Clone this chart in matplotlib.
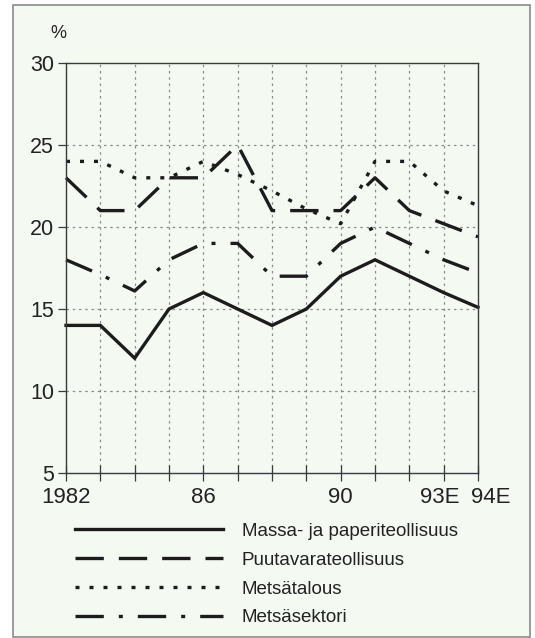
import matplotlib
matplotlib.use('Agg')
import matplotlib.pyplot as plt
from matplotlib.patches import Rectangle
from matplotlib.transforms import ScaledTranslation

plt.rcParams['font.family'] = ['Liberation Sans', 'DejaVu Sans']

years = [1982, 1983, 1984, 1985, 1986, 1987, 1988, 1989, 1990, 1991, 1992, 1993, 1994]
massa = [14, 14, 12, 15, 16, 15, 14, 15, 17, 18, 17, 16, 15.1]
puutavara = [23, 21, 21, 23, 23, 25, 21, 21, 21, 23, 21, 20.2, 19.4]
metsatalous = [24, 24, 23, 23, 24, 23.2, 22.2, 21.1, 20.2, 24, 24, 22.2, 21.3]
metsasektori = [18, 17.1, 16.1, 18, 19, 19, 17, 17, 19, 20, 19, 18, 17.2]

labels = ['Massa- ja paperiteollisuus', 'Puutavarateollisuus', 'Metsätalous', 'Metsäsektori']
xtick_pos = [1982, 1986, 1990, 1993, 1994]
xtick_lab = ['1982', '86', '90', '93E', '94E']

ink = '#1c1c1c'
bg = '#f4f9f2'

fig = plt.figure(figsize=(5.35, 6.38), dpi=100)
fig.patch.set_facecolor('white')
# light panel with grey frame
fig.add_artist(Rectangle((13 / 535, 1 - 637 / 638), 517 / 535, 632 / 638,
                         transform=fig.transFigure, facecolor=bg,
                         edgecolor='#8a8a8a', linewidth=1.2, zorder=-10))

ax = fig.add_axes([66 / 535, 1 - 473 / 638, 412 / 535, 410 / 638])
ax.set_facecolor('none')

lw = 2.4
ax.plot(years, massa, color=ink, lw=lw, solid_joinstyle='miter', label=labels[0], clip_on=False)
ax.plot(years, puutavara, color=ink, lw=lw, dashes=(8.5, 4.5), label=labels[1], clip_on=False)
ax.plot(years, metsatalous, color=ink, lw=lw, dashes=(1.2, 3.0), label=labels[2], clip_on=False)
ax.plot(years, metsasektori, color=ink, lw=lw, dashes=(8.5, 4.5, 1.2, 4.5), label=labels[3], clip_on=False)

ax.set_xlim(1982, 1994)
ax.set_ylim(5, 30)
ax.set_xticks(years)
ax.set_xticklabels([xtick_lab[xtick_pos.index(y)] if y in xtick_pos else '' for y in years])
ax.set_yticks([5, 10, 15, 20, 25, 30])

for y in [10, 15, 20, 25]:
    ax.axhline(y, color='#8c8c8c', lw=0.9, ls=(0, (2, 3)), zorder=0)
for x in years[1:-1]:
    ax.axvline(x, color='#8c8c8c', lw=0.9, ls=(0, (2, 3)), zorder=0)

for s in ax.spines.values():
    s.set_color('#3a3a3a')
    s.set_linewidth(1.0)

ax.tick_params(axis='x', direction='inout', length=12, width=0.9, color='#3a3a3a',
               labelsize=16, labelcolor='#222222', pad=4)
ax.tick_params(axis='y', direction='out', length=5.5, width=0.9, color='#3a3a3a',
               labelsize=15.5, labelcolor='#222222', pad=3)

# nudge the two last year labels apart, as in the original
xl = ax.get_xticklabels()
xl[11].set_transform(xl[11].get_transform() + ScaledTranslation(-4 / 100, 0, fig.dpi_scale_trans))
xl[12].set_transform(xl[12].get_transform() + ScaledTranslation(13 / 100, 0, fig.dpi_scale_trans))

fig.text(58 / 535, 1 - 33 / 638, '%', fontsize=13, color='#222222', ha='center', va='center')

fig.legend(loc='upper left', bbox_to_anchor=(58 / 535, 1 - 506 / 638), frameon=False,
           fontsize=13.5, handlelength=7.9, handletextpad=1.0, labelspacing=0.62,
           labelcolor='#222222')

fig.savefig('out.png', dpi=100, facecolor=fig.get_facecolor())
